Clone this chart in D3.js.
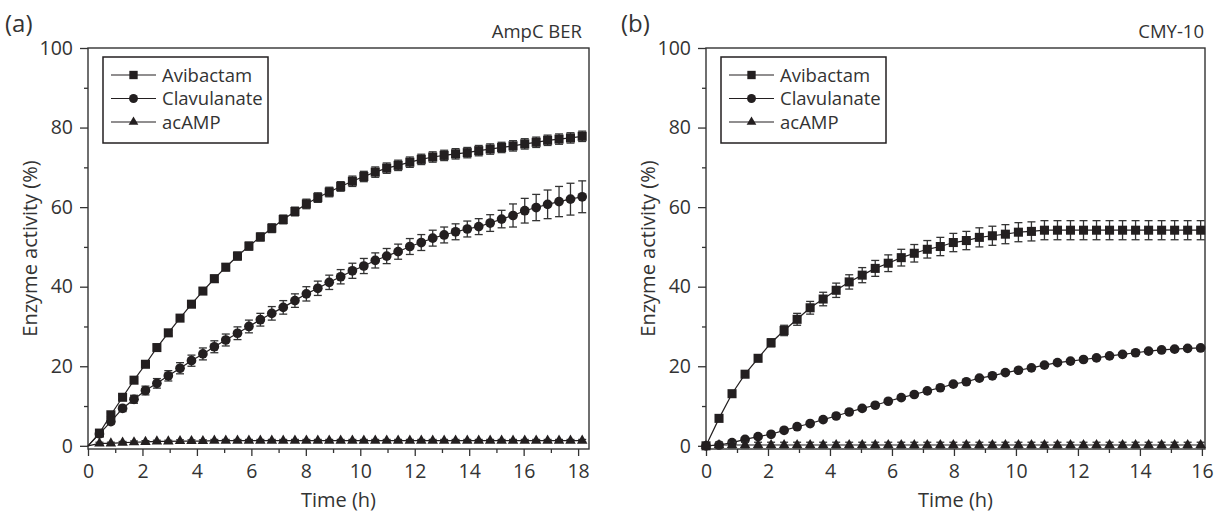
<!DOCTYPE html>
<html>
<head>
<meta charset="utf-8">
<script src="https://cdn.jsdelivr.net/npm/d3@7"></script>
<style>
  body { margin: 0; background: #fff; }
  svg text { font-family: "Open Sans", "DejaVu Sans", sans-serif; fill: #333; }
</style>
</head>
<body>
<div class="chart"></div>
<script>
// panel (a) - AmpC BER
const timesA = [0, 0.42, 0.84, 1.27, 1.69, 2.11, 2.53, 2.95, 3.38, 3.80, 4.22, 4.64, 5.06, 5.49, 5.91,
  6.33, 6.75, 7.17, 7.60, 8.02, 8.44, 8.86, 9.28, 9.71, 10.13, 10.55, 10.97, 11.39, 11.82, 12.24,
  12.66, 13.08, 13.50, 13.93, 14.35, 14.77, 15.19, 15.61, 16.04, 16.46, 16.88, 17.30, 17.72, 18.15];
const avibactamA = [0, 3.2, 7.8, 12.2, 16.5, 20.5, 24.7, 28.4, 32.1, 35.6, 38.9, 42.0, 44.9, 47.7, 50.2,
  52.5, 54.7, 56.9, 58.9, 60.8, 62.4, 63.8, 65.2, 66.5, 67.7, 68.8, 69.8, 70.5, 71.3, 72.0,
  72.6, 73.0, 73.4, 73.7, 74.2, 74.6, 75.0, 75.4, 75.9, 76.3, 76.8, 77.1, 77.4, 77.8];
const avibactamErrA = [0, 0.4, 0.5, 0.5, 0.6, 0.6, 0.7, 0.7, 0.8, 0.8, 0.8, 0.9, 0.9, 1.0, 1.0,
  1.0, 1.1, 1.1, 1.1, 1.2, 1.2, 1.2, 1.2, 1.3, 1.3, 1.3, 1.3, 1.3, 1.3, 1.3,
  1.3, 1.3, 1.3, 1.3, 1.3, 1.3, 1.3, 1.3, 1.3, 1.3, 1.3, 1.3, 1.3, 1.3];
const clavulanateA = [0, 3.0, 6.1, 9.4, 11.7, 13.9, 15.7, 17.6, 19.5, 21.4, 23.1, 24.9, 26.6, 28.3, 30.0,
  31.7, 33.3, 34.8, 36.5, 38.2, 39.6, 41.1, 42.5, 44.0, 45.2, 46.6, 47.7, 48.8, 50.1, 51.1,
  52.2, 53.0, 53.8, 54.5, 55.1, 56.0, 57.0, 57.9, 59.1, 59.9, 60.7, 61.4, 62.0, 62.6];
const clavulanateErrA = [0, 0.5, 0.6, 0.8, 1.0, 1.1, 1.2, 1.3, 1.4, 1.4, 1.5, 1.5, 1.5, 1.6, 1.6,
  1.6, 1.7, 1.7, 1.7, 1.8, 1.8, 1.8, 1.8, 1.9, 1.9, 1.9, 1.9, 1.9, 2.0, 2.0,
  2.0, 2.0, 2.0, 2.0, 2.0, 2.1, 2.2, 2.9, 3.1, 3.3, 3.6, 3.8, 4.0, 4.0];
const acampA = [0, 0.6, 0.6, 0.8, 0.9, 1.0, 1.1, 1.1, 1.2, 1.2, 1.2, 1.3, 1.3, 1.3, 1.3,
  1.3, 1.3, 1.3, 1.3, 1.3, 1.3, 1.3, 1.3, 1.3, 1.3, 1.3, 1.3, 1.3, 1.3, 1.3,
  1.3, 1.3, 1.3, 1.3, 1.3, 1.3, 1.3, 1.3, 1.3, 1.3, 1.3, 1.3, 1.3, 1.3];
const acampErrA = [0, 0.3, 0.3, 0.3, 0.3, 0.3, 0.3, 0.3, 0.3, 0.3, 0.3, 0.3, 0.3, 0.3, 0.3,
  0.3, 0.3, 0.3, 0.3, 0.3, 0.3, 0.3, 0.3, 0.3, 0.3, 0.3, 0.3, 0.3, 0.3, 0.3,
  0.3, 0.3, 0.3, 0.3, 0.3, 0.3, 0.3, 0.3, 0.3, 0.3, 0.3, 0.3, 0.3, 0.3];

// panel (b) - CMY-10
const timesB = [0, 0.42, 0.84, 1.26, 1.68, 2.10, 2.52, 2.94, 3.36, 3.78, 4.20, 4.62, 5.04, 5.46, 5.88,
  6.30, 6.72, 7.14, 7.56, 7.98, 8.40, 8.82, 9.24, 9.66, 10.08, 10.50, 10.92, 11.34, 11.76, 12.18,
  12.60, 13.02, 13.44, 13.86, 14.28, 14.70, 15.12, 15.54, 15.96];
const avibactamB = [0, 6.9, 13.1, 18.0, 22.0, 25.9, 29.0, 31.8, 34.7, 36.9, 39.1, 41.2, 42.9, 44.6, 45.9,
  47.3, 48.4, 49.4, 50.1, 51.1, 51.6, 52.4, 52.8, 53.2, 53.7, 53.9, 54.2, 54.2, 54.2, 54.2,
  54.2, 54.2, 54.2, 54.2, 54.2, 54.2, 54.2, 54.2, 54.2];
const avibactamErrB = [0, 0.5, 0.6, 0.7, 0.8, 1.0, 1.3, 1.5, 1.6, 1.7, 1.8, 1.8, 1.9, 2.0, 2.1,
  2.1, 2.2, 2.2, 2.3, 2.3, 2.3, 2.4, 2.4, 2.4, 2.4, 2.4, 2.4, 2.4, 2.4, 2.4,
  2.4, 2.4, 2.4, 2.4, 2.4, 2.4, 2.4, 2.4, 2.4];
const clavulanateB = [0, 0.2, 0.8, 1.6, 2.3, 2.9, 3.9, 4.8, 5.6, 6.6, 7.5, 8.5, 9.4, 10.2, 11.2,
  12.1, 12.9, 13.8, 14.6, 15.5, 16.1, 17.0, 17.6, 18.4, 19.0, 19.6, 20.3, 20.9, 21.3, 21.7,
  22.1, 22.6, 23.0, 23.4, 23.8, 24.1, 24.3, 24.5, 24.6];
const clavulanateErrB = [0, 0.4, 0.4, 0.4, 0.4, 0.4, 0.4, 0.4, 0.4, 0.4, 0.4, 0.4, 0.4, 0.4, 0.4,
  0.4, 0.4, 0.4, 0.4, 0.4, 0.4, 0.4, 0.4, 0.4, 0.4, 0.4, 0.4, 0.4, 0.4, 0.4,
  0.4, 0.4, 0.4, 0.4, 0.4, 0.4, 0.4, 0.4, 0.4];
const acampB = [0, 0.2, 0.2, 0.2, 0.2, 0.2, 0.2, 0.2, 0.2, 0.2, 0.2, 0.2, 0.2, 0.2, 0.2,
  0.2, 0.2, 0.2, 0.2, 0.2, 0.2, 0.2, 0.2, 0.2, 0.2, 0.2, 0.2, 0.2, 0.2, 0.2,
  0.2, 0.2, 0.2, 0.2, 0.2, 0.2, 0.2, 0.2, 0.2];
const acampErrB = [0, 0.7, 0.7, 0.7, 0.7, 0.7, 0.7, 0.7, 0.7, 0.7, 0.7, 0.7, 0.7, 0.7, 0.7,
  0.7, 0.7, 0.7, 0.7, 0.7, 0.7, 0.7, 0.7, 0.7, 0.7, 0.7, 0.7, 0.7, 0.7, 0.7,
  0.7, 0.7, 0.7, 0.7, 0.7, 0.7, 0.7, 0.7, 0.7];

const seriesNames = ['Avibactam', 'Clavulanate', 'acAMP'];
const yTicks = [0, 20, 40, 60, 80, 100];
const yMinorTicks = [10, 30, 50, 70, 90];
const xTicksA = [0, 2, 4, 6, 8, 10, 12, 14, 16, 18];
const xMinorTicksA = [1, 3, 5, 7, 9, 11, 13, 15, 17];
const xTicksB = [0, 2, 4, 6, 8, 10, 12, 14, 16];
const xMinorTicksB = [1, 3, 5, 7, 9, 11, 13, 15];

const width = 1216;
const height = 514;
const ink = '#231f20';
const axisColor = '#333';

const svg = d3.select('.chart')
              .append('svg')
              .attr('width', width)
              .attr('height', height)
              .attr('viewBox', [0, 0, width, height]);

const symbols = [d3.symbolSquare, d3.symbolCircle, d3.symbolTriangle];
const symbolSizes = [82, 74, 48];

function drawPanel(p) {
  const top = 48, bottom = 449;
  const x = d3.scaleLinear().domain([0, p.xMax]).range([p.left, p.right]);
  const y = d3.scaleLinear().domain([-0.8, 100]).range([bottom, top]);
  const g = svg.append('g');

  // minor ticks
  g.append('g')
   .attr('transform', `translate(0,${bottom})`)
   .call(d3.axisBottom(x).tickValues(p.xMinor).tickSize(4).tickFormat(''))
   .call(a => a.select('.domain').remove());
  g.append('g')
   .attr('transform', `translate(${p.left},0)`)
   .call(d3.axisLeft(y).tickValues(yMinorTicks).tickSize(4).tickFormat(''))
   .call(a => a.select('.domain').remove());

  // major ticks
  g.append('g')
   .attr('transform', `translate(0,${bottom})`)
   .call(d3.axisBottom(x).tickValues(p.xTicks).tickSize(7).tickPadding(8))
   .call(a => a.select('.domain').remove());
  g.append('g')
   .attr('transform', `translate(${p.left},0)`)
   .call(d3.axisLeft(y).tickValues(yTicks).tickSize(8).tickPadding(7))
   .call(a => a.select('.domain').remove());

  g.selectAll('.tick line').attr('stroke', axisColor).attr('stroke-width', 1.3);
  g.selectAll('.tick text')
   .attr('font-size', 19.5)
   .attr('fill', axisColor)
   .attr('font-family', '"Open Sans", sans-serif');

  // frame
  g.append('rect')
   .attr('x', p.left).attr('y', top)
   .attr('width', p.right - p.left).attr('height', bottom - top)
   .attr('fill', 'none').attr('stroke', axisColor).attr('stroke-width', 1.4);

  // series
  p.series.forEach((s, si) => {
    const pts = s.values.map((v, i) => ({t: p.times[i], v: v, e: s.err[i]}));
    const line = d3.line().x(d => x(d.t)).y(d => y(d.v));
    g.append('path')
     .datum(pts)
     .attr('d', line)
     .attr('fill', 'none')
     .attr('stroke', ink)
     .attr('stroke-width', 1.2);

    const marked = pts.filter(d => p.markZero || d.t > 0);
    const eb = g.append('g').attr('stroke', axisColor).attr('stroke-width', 1.3);
    marked.filter(d => d.e > 0).forEach(d => {
      const cx = x(d.t), y1 = y(d.v + d.e), y2 = y(d.v - d.e);
      eb.append('line').attr('x1', cx).attr('x2', cx).attr('y1', y1).attr('y2', y2);
      eb.append('line').attr('x1', cx - 4).attr('x2', cx + 4).attr('y1', y1).attr('y2', y1);
      eb.append('line').attr('x1', cx - 4).attr('x2', cx + 4).attr('y1', y2).attr('y2', y2);
    });

    g.append('g').selectAll('path')
     .data(marked)
     .enter().append('path')
     .attr('transform', d => `translate(${x(d.t)},${y(d.v)})`)
     .attr('d', d3.symbol().type(symbols[si]).size(symbolSizes[si]))
     .attr('fill', ink);
  });

  // legend
  const lx = p.left + 15, ly = 57;
  g.append('rect')
   .attr('x', lx).attr('y', ly).attr('width', 165).attr('height', 86)
   .attr('fill', '#fff').attr('stroke', ink).attr('stroke-width', 1.5);
  seriesNames.forEach((name, i) => {
    const yy = ly + 18 + i * 23.5;
    g.append('line')
     .attr('x1', lx + 8).attr('x2', lx + 53).attr('y1', yy).attr('y2', yy)
     .attr('stroke', ink).attr('stroke-width', 1.2);
    g.append('path')
     .attr('transform', `translate(${lx + 30.5},${yy})`)
     .attr('d', d3.symbol().type(symbols[i]).size(symbolSizes[i] * 0.85))
     .attr('fill', ink);
    g.append('text')
     .attr('x', lx + 59).attr('y', yy + 6.5)
     .attr('font-size', 18.5)
     .text(name);
  });

  // titles
  g.append('text')
   .attr('transform', `translate(${p.left - 51},${(top + bottom) / 2}) rotate(-90)`)
   .attr('text-anchor', 'middle')
   .attr('font-size', 20)
   .text('Enzyme activity (%)');
  g.append('text')
   .attr('x', (p.left + p.right) / 2).attr('y', 507)
   .attr('text-anchor', 'middle')
   .attr('font-size', 20)
   .text('Time (h)');
  g.append('text')
   .attr('x', p.labelX).attr('y', 32)
   .attr('font-size', 24)
   .text(p.label);
  g.append('text')
   .attr('x', p.nameX).attr('y', 38)
   .attr('text-anchor', 'end')
   .attr('font-size', 18.5)
   .text(p.name);
}

drawPanel({
  label: '(a)', labelX: 5, name: 'AmpC BER', nameX: 582,
  left: 88, right: 589, xMax: 18.4, xTicks: xTicksA, xMinor: xMinorTicksA,
  times: timesA, markZero: false,
  series: [
    {values: avibactamA, err: avibactamErrA},
    {values: clavulanateA, err: clavulanateErrA},
    {values: acampA, err: acampErrA}
  ]
});

drawPanel({
  label: '(b)', labelX: 621, name: 'CMY-10', nameX: 1204,
  left: 706, right: 1205, xMax: 16.1, xTicks: xTicksB, xMinor: xMinorTicksB,
  times: timesB, markZero: true,
  series: [
    {values: avibactamB, err: avibactamErrB},
    {values: clavulanateB, err: clavulanateErrB},
    {values: acampB, err: acampErrB}
  ]
});
</script>
</body>
</html>
